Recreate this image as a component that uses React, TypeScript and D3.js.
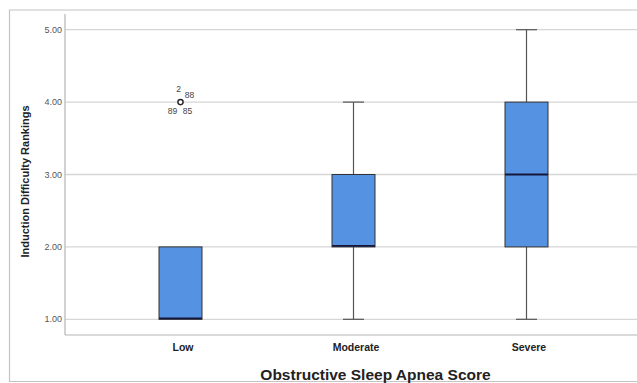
import React from "react";
import * as d3 from "d3";

const categories = ["Low", "Moderate", "Severe"];
const mins = [1, 1, 1];
const q1s = [1, 2, 2];
const medians = [1, 2, 3];
const q3s = [2, 3, 4];
const maxs = [2, 4, 5];
const outlierCategory = ["Low"];
const outlierValue = [4];
const outlierLabels = ["2", "88", "89", "85"];
const yTicks = [1, 2, 3, 4, 5];

const W = 637;
const H = 383;

export default function App() {
  const y = d3.scaleLinear().domain([1, 5]).range([319.3, 29.7]);
  const x = d3.scalePoint<string>().domain(categories).range([94, 613]).padding(0.5);
  const boxW = 43;
  const capW = 21;
  const axisX = 65;
  const axisBottom = 335;
  const boxFill = "#5592e2";
  const font = "Liberation Sans, Arial, sans-serif";

  const labelOffsets: [number, number][] = [
    [-2, -13],
    [9, -7],
    [-8, 8.5],
    [7, 8.5],
  ];

  return (
    <svg
      width={W}
      height={H}
      style={{ position: "absolute", left: 0, top: 0, background: "#fff" }}
      fontFamily={font}
    >
      {/* outer frame */}
      <path d={`M${W},10 H9.5 V381.5 H${W}`} fill="none" stroke="#c4c4c4" strokeWidth={1.2} />

      {/* gridlines */}
      {yTicks.map((t) => (
        <line key={t} x1={axisX} x2={W} y1={y(t)} y2={y(t)} stroke="#d6d6d6" strokeWidth={1.3} />
      ))}

      {/* axes */}
      <line x1={axisX} x2={axisX} y1={14} y2={axisBottom} stroke="#b5b5b5" strokeWidth={1.2} />
      <line x1={axisX} x2={W} y1={axisBottom} y2={axisBottom} stroke="#b5b5b5" strokeWidth={1.2} />

      {/* y tick labels */}
      {yTicks.map((t) => (
        <text key={t} x={62} y={y(t)} dy="0.35em" textAnchor="end" fontSize={9} fill="#555">
          {d3.format(".2f")(t)}
        </text>
      ))}

      {/* boxes */}
      {categories.map((c, i) => {
        const cx = x(c) as number;
        return (
          <g key={c}>
            {maxs[i] > q3s[i] && (
              <>
                <line x1={cx} x2={cx} y1={y(q3s[i])} y2={y(maxs[i])} stroke="#555" strokeWidth={1.2} />
                <line x1={cx - capW / 2} x2={cx + capW / 2} y1={y(maxs[i])} y2={y(maxs[i])} stroke="#555" strokeWidth={1.2} />
              </>
            )}
            {mins[i] < q1s[i] && (
              <>
                <line x1={cx} x2={cx} y1={y(q1s[i])} y2={y(mins[i])} stroke="#555" strokeWidth={1.2} />
                <line x1={cx - capW / 2} x2={cx + capW / 2} y1={y(mins[i])} y2={y(mins[i])} stroke="#555" strokeWidth={1.2} />
              </>
            )}
            <rect
              x={cx - boxW / 2}
              y={y(q3s[i])}
              width={boxW}
              height={y(q1s[i]) - y(q3s[i])}
              fill={boxFill}
              stroke="#333"
              strokeWidth={1}
            />
            <line
              x1={cx - boxW / 2}
              x2={cx + boxW / 2}
              y1={y(medians[i]) - (medians[i] === q1s[i] ? 1 : 0)}
              y2={y(medians[i]) - (medians[i] === q1s[i] ? 1 : 0)}
              stroke="#16163a"
              strokeWidth={1.8}
            />
          </g>
        );
      })}

      {/* outliers */}
      {outlierCategory.map((c, i) => {
        const cx = x(c) as number;
        const cy = y(outlierValue[i]);
        return (
          <g key={c + i}>
            <circle cx={cx} cy={cy} r={2.6} fill="#fff" stroke="#222" strokeWidth={1.4} />
            {outlierLabels.map((l, j) => (
              <text
                key={l}
                x={cx + labelOffsets[j][0]}
                y={cy + labelOffsets[j][1]}
                dy="0.35em"
                textAnchor="middle"
                fontSize={8.5}
                fill="#444"
              >
                {l}
              </text>
            ))}
          </g>
        );
      })}

      {/* x tick labels */}
      {categories.map((c) => (
        <text key={c} x={(x(c) as number) + 2.5} y={351} textAnchor="middle" fontSize={10.5} fontWeight="bold" fill="#222">
          {c}
        </text>
      ))}

      {/* axis titles */}
      <text
        transform={`translate(28.5,${(y(1) + y(5)) / 2 + 7}) rotate(-90)`}
        textAnchor="middle"
        fontSize={11}
        fontWeight="bold"
        fill="#222"
      >
        Induction Difficulty Rankings
      </text>
      <text x={375.5} y={380} textAnchor="middle" fontSize={15.5} fontWeight="bold" fill="#222">
        Obstructive Sleep Apnea Score
      </text>
    </svg>
  );
}
